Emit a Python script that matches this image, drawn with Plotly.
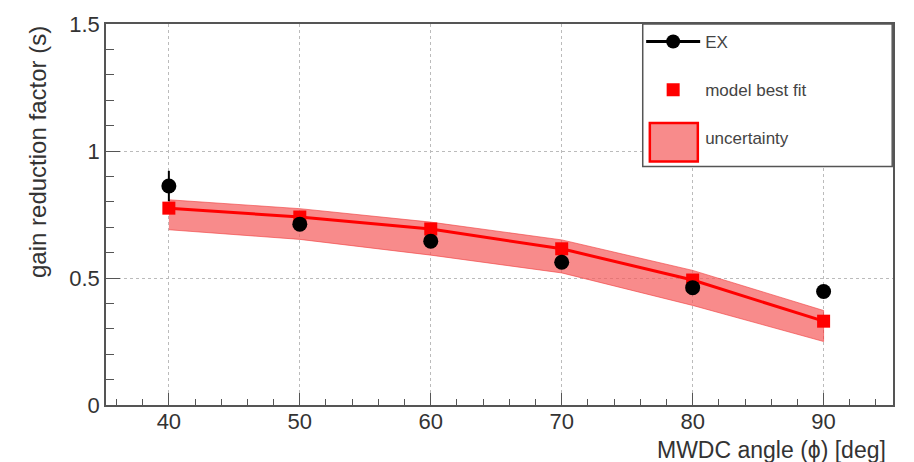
import plotly.graph_objects as go

angles = [40, 50, 60, 70, 80, 90]
ex_values = [0.862, 0.712, 0.645, 0.562, 0.462, 0.447]
ex_errors = [0.06, 0.02, 0.02, 0.02, 0.015, 0.015]
model_fit = [0.775, 0.740, 0.693, 0.615, 0.492, 0.330]
band_upper = [0.808, 0.773, 0.720, 0.650, 0.530, 0.372]
band_lower = [0.690, 0.652, 0.590, 0.520, 0.392, 0.250]

RED = "#ff0000"
BAND = "rgba(245,90,90,0.7)"
FONT = "Liberation Sans, Arial, Helvetica, sans-serif"

fig = go.Figure()

fig.add_trace(go.Scatter(
    x=angles + angles[::-1], y=band_upper + band_lower[::-1],
    fill="toself", fillcolor=BAND,
    line=dict(color="rgba(240,60,60,0.6)", width=1),
    mode="lines", showlegend=False, hoverinfo="skip"))

fig.add_trace(go.Scatter(
    x=angles, y=model_fit, mode="lines",
    line=dict(color=RED, width=3), showlegend=False, hoverinfo="skip"))

fig.add_trace(go.Scatter(
    x=angles, y=model_fit, mode="markers",
    marker=dict(symbol="square", size=13, color=RED),
    name="model best fit", legendgroup="b", legendrank=2))

fig.add_trace(go.Scatter(
    x=angles, y=ex_values, mode="markers",
    marker=dict(symbol="circle", size=15, color="black"),
    error_y=dict(type="data", array=ex_errors, color="black", thickness=2, width=0),
    name="EX", showlegend=False))

# legend entry for EX (line + marker, like the reference legend)
fig.add_trace(go.Scatter(
    x=[None], y=[None], mode="markers+lines",
    line=dict(color="black", width=3),
    marker=dict(symbol="circle", size=14, color="black"),
    name="EX", legendgroup="a", legendrank=1))

# legend text entry for the band; its key is drawn as a larger box below
fig.add_trace(go.Scatter(
    x=[None], y=[None], mode="markers",
    marker=dict(symbol="square", size=1, color="rgba(0,0,0,0)"),
    name="uncertainty", legendgroup="c", legendrank=3))

axis_common = dict(
    showline=True, linecolor="#555", linewidth=1.5, mirror=True,
    ticks="inside", tickcolor="#555", tickfont=dict(size=22, color="#333", family=FONT),
    showgrid=True, gridcolor="#bbbbbb", griddash="dot", gridwidth=1,
    zeroline=False,
)

fig.update_xaxes(range=[35.2, 95.3], dtick=10, ticklen=12, ticklabelstandoff=-4,
                 minor=dict(dtick=2, ticklen=6, ticks="inside", tickcolor="#555", showgrid=False),
                 **axis_common)
fig.update_yaxes(range=[0, 1.5], dtick=0.5, ticklen=14,
                 tickvals=[0, 0.5, 1, 1.5], ticktext=["0", "0.5", "1", "1.5"],
                 minor=dict(dtick=0.1, ticklen=8, ticks="inside", tickcolor="#555", showgrid=False),
                 **axis_common)

fig.add_annotation(text="MWDC angle (\u03d5) [deg]", xref="paper", yref="paper",
                   x=0.994, y=-0.078, xanchor="right", yanchor="top", showarrow=False,
                   font=dict(size=23, color="#333", family=FONT))
fig.add_annotation(text="gain reduction factor (s)", xref="paper", yref="paper",
                   x=-0.068, y=1.0, xanchor="right", yanchor="top", textangle=-90,
                   showarrow=False, font=dict(size=24, color="#333", family=FONT))

# legend frame
fig.add_shape(type="rect", xref="paper", yref="paper",
              x0=0.682, x1=0.999, y0=0.626, y1=1.0,
              line=dict(color="#555", width=1.5), fillcolor="white", layer="above")
# enlarged legend key for the uncertainty band
fig.add_shape(type="rect", xref="paper", yref="paper",
              x0=0.691, x1=0.752, y0=0.639, y1=0.740,
              line=dict(color=RED, width=2.5), fillcolor=BAND, layer="above")

fig.update_layout(
    width=914, height=462,
    margin=dict(l=106, r=21, t=17, b=57),
    paper_bgcolor="white", plot_bgcolor="white",
    showlegend=True,
    legend=dict(x=0.680, y=1.0, xanchor="left", yanchor="top",
                bgcolor="rgba(0,0,0,0)", borderwidth=0,
                traceorder="grouped", tracegroupgap=23,
                font=dict(size=17, color="#444", family=FONT),
                itemwidth=54),
)

fig.write_html("out.html")
